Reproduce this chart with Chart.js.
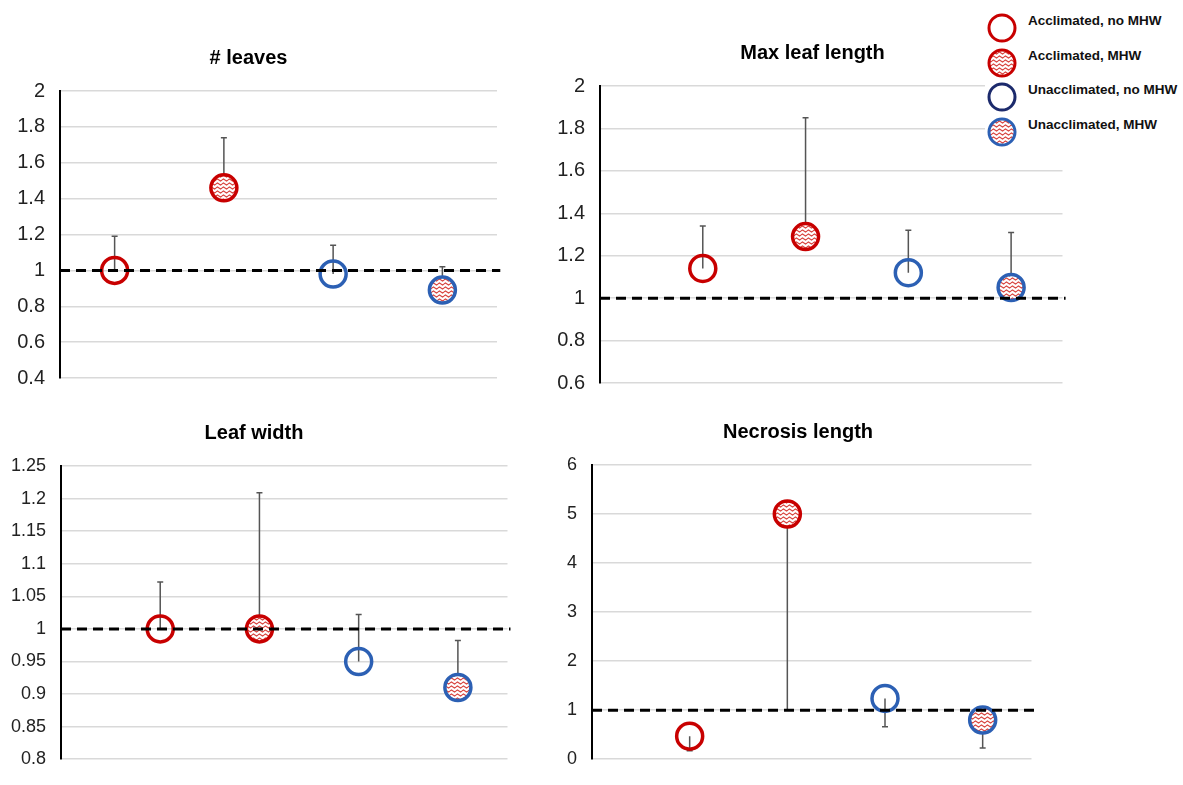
<!DOCTYPE html>
<html>
<head>
<meta charset="utf-8">
<script src="https://cdn.jsdelivr.net/npm/chart.js@4.4.0/dist/chart.umd.min.js"></script>
<style>
  body { margin: 0; background: #fff; width: 1183px; height: 785px; overflow: hidden; position: relative; }
  canvas.panel { position: absolute; }
  #legend { position: absolute; left: 985px; top: 6px; width: 198px; height: 146px; background: #fff; }
  .item { position: absolute; left: 0; height: 32px; }
  .item canvas { position: absolute; left: 1px; top: 0; }
  .item span { position: absolute; left: 43px; top: 0; white-space: nowrap;
    font: bold 13.5px Arial, "Liberation Sans", sans-serif; color: #111; }
</style>
</head>
<body>
<canvas id="c1" class="panel"></canvas>
<canvas id="c2" class="panel"></canvas>
<canvas id="c3" class="panel"></canvas>
<canvas id="c4" class="panel"></canvas>
<div id="legend"></div>
<script>
// groups (same order in every panel)
const groups = ['Acclimated, no MHW', 'Acclimated, MHW', 'Unacclimated, no MHW', 'Unacclimated, MHW'];
const groupPos = [1, 2, 3, 4];

// # leaves
const leavesMean = [1.0, 1.46, 0.98, 0.89];
const leavesBarEnd = [1.19, 1.74, 1.14, 1.02];
const leavesTicks = ['0.4', '0.6', '0.8', '1', '1.2', '1.4', '1.6', '1.8', '2'];

// max leaf length
const lengthMean = [1.14, 1.29, 1.12, 1.05];
const lengthBarEnd = [1.34, 1.85, 1.32, 1.31];
const lengthTicks = ['0.6', '0.8', '1', '1.2', '1.4', '1.6', '1.8', '2'];

// leaf width
const widthMean = [1.0, 1.0, 0.95, 0.91];
const widthBarEnd = [1.072, 1.209, 1.022, 0.982];
const widthTicks = ['0.8', '0.85', '0.9', '0.95', '1', '1.05', '1.1', '1.15', '1.2', '1.25'];

// necrosis length (bars go down here)
const necrosisMean = [0.47, 5.0, 1.24, 0.8];
const necrosisBarEnd = [0.17, 1.0, 0.66, 0.23];
const necrosisTicks = ['0', '1', '2', '3', '4', '5', '6'];

const refLine = 1;

const RED = '#c80000';
const BLUE = '#2c60b4';
const NAVY = '#1c2a6c';
const FONT = 'Arial, "Liberation Sans", sans-serif';

// wavy red hatch used for the MHW groups
function wavePattern(ctx) {
  const t = document.createElement('canvas');
  t.width = 6; t.height = 4;
  const g = t.getContext('2d');
  g.fillStyle = '#fff';
  g.fillRect(0, 0, 6, 4);
  g.strokeStyle = '#d84640';
  g.lineWidth = 1.1;
  g.beginPath();
  g.moveTo(0, 2); g.lineTo(1.5, 1); g.lineTo(3, 2); g.lineTo(4.5, 3); g.lineTo(6, 2);
  g.stroke();
  return ctx.createPattern(t, 'repeat');
}

const errorBars = {
  id: 'errorBars',
  beforeDatasetsDraw(chart, args, opts) {
    const { ctx, scales: { x, y } } = chart;
    ctx.save();
    ctx.strokeStyle = '#555';
    ctx.lineWidth = 1.5;
    opts.means.forEach((m, i) => {
      const px = x.getPixelForValue(groupPos[i]);
      const y0 = y.getPixelForValue(m);
      const y1 = y.getPixelForValue(opts.ends[i]);
      ctx.beginPath();
      ctx.moveTo(px, y0); ctx.lineTo(px, y1);
      ctx.moveTo(px - 3, y1); ctx.lineTo(px + 3, y1);
      ctx.stroke();
    });
    ctx.restore();
  }
};

const panels = [
  { id: 'c1', title: '# leaves', means: leavesMean, ends: leavesBarEnd, ticks: leavesTicks,
    left: 0, top: 30, w: 516, h: 375, axisW: 60, padR: 19, padB: 15, xMin: 0.5, xMax: 4.5, tickSize: 20 },
  { id: 'c2', title: 'Max leaf length', means: lengthMean, ends: lengthBarEnd, ticks: lengthTicks,
    left: 555, top: 25, w: 524, h: 385, axisW: 45, padR: 9, padB: 15, xMin: 0, xMax: 4.5, tickSize: 20 },
  { id: 'c3', title: 'Leaf width', means: widthMean, ends: widthBarEnd, ticks: widthTicks,
    left: 0, top: 405, w: 524, h: 380, axisW: 61, padR: 16, padB: 13, xMin: 0, xMax: 4.5, tickSize: 18 },
  { id: 'c4', title: 'Necrosis length', means: necrosisMean, ends: necrosisBarEnd, ticks: necrosisTicks,
    left: 560, top: 404, w: 488, h: 381, axisW: 32, padR: 12, padB: 8, xMin: 0, xMax: 4.5, tickSize: 18 }
];

panels.forEach(p => {
  const cv = document.getElementById(p.id);
  cv.width = p.w; cv.height = p.h;
  cv.style.left = p.left + 'px'; cv.style.top = p.top + 'px';
  const ctx = cv.getContext('2d');
  const pat = wavePattern(ctx);
  const fills = ['rgba(0,0,0,0)', pat, 'rgba(0,0,0,0)', pat];
  const borders = [RED, RED, BLUE, BLUE];
  const tickVals = p.ticks.map(Number);

  new Chart(ctx, {
    type: 'scatter',
    data: {
      datasets: [
        {
          label: 'ref',
          data: [{ x: p.xMin, y: refLine }, { x: p.xMax + 0.03, y: refLine }],
          showLine: true,
          borderColor: '#000',
          borderWidth: 3,
          borderDash: [10, 6],
          pointRadius: 0,
          clip: false,
          order: 0
        },
        {
          label: p.title,
          data: p.means.map((m, i) => ({ x: groupPos[i], y: m })),
          pointRadius: 13,
          pointHoverRadius: 13,
          pointBorderWidth: 3.5,
          pointBorderColor: borders,
          pointBackgroundColor: fills,
          clip: false,
          order: 1
        }
      ]
    },
    options: {
      responsive: false,
      animation: false,
      events: [],
      layout: { padding: { left: 0, right: p.padR, top: 0, bottom: p.padB } },
      plugins: {
        legend: { display: false },
        tooltip: { enabled: false },
        title: {
          display: true,
          text: p.title,
          color: '#000',
          font: { family: FONT, size: 20, weight: 'bold' },
          padding: { top: 16, bottom: 21 }
        },
        errorBars: { means: p.means, ends: p.ends }
      },
      scales: {
        x: { type: 'linear', min: p.xMin, max: p.xMax, display: false },
        y: {
          min: tickVals[0],
          max: tickVals[tickVals.length - 1],
          afterBuildTicks: s => { s.ticks = tickVals.map(v => ({ value: v })); },
          afterFit: s => { s.width = p.axisW; },
          ticks: {
            color: '#222',
            padding: 15,
            font: { family: FONT, size: p.tickSize },
            callback: v => p.ticks[tickVals.indexOf(v)]
          },
          grid: { color: '#d9d9d9', lineWidth: 1.5, drawTicks: false },
          border: { display: true, color: '#000', width: 2 }
        }
      }
    },
    plugins: [errorBars]
  });
});

// legend
const legendRows = [28, 63, 97, 132];
const legendBorders = [RED, RED, NAVY, BLUE];
const legendEl = document.getElementById('legend');
groups.forEach((g, i) => {
  const row = document.createElement('div');
  row.className = 'item';
  row.style.top = (legendRows[i] - 6 - 16) + 'px';
  const c = document.createElement('canvas');
  c.width = 32; c.height = 32;
  const cx = c.getContext('2d');
  cx.beginPath();
  cx.arc(16, 16, 13, 0, Math.PI * 2);
  cx.fillStyle = (i % 2 === 1) ? wavePattern(cx) : '#fff';
  cx.fill();
  cx.lineWidth = 3;
  cx.strokeStyle = legendBorders[i];
  cx.stroke();
  const s = document.createElement('span');
  s.textContent = g;
  s.style.top = '1px';
  row.appendChild(c);
  row.appendChild(s);
  legendEl.appendChild(row);
});
</script>
</body>
</html>
